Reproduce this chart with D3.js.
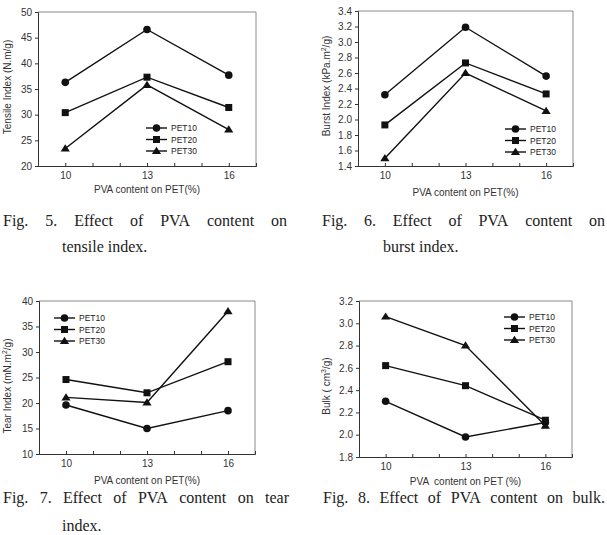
<!DOCTYPE html>
<html>
<head>
<meta charset="utf-8">
<script src="https://cdn.jsdelivr.net/npm/d3@7"></script>
<style>
  body { margin: 0; background: #fff; }
  svg { display: block; }
  .tick text { font-family: Arial, "Liberation Sans", sans-serif; }
</style>
</head>
<body>
<svg id="fig" width="607" height="535"></svg>
<script>
// data
const pvaContent = [10, 13, 16];
const seriesNames = ["PET10", "PET20", "PET30"];

const tensilePET10 = [36.3, 46.6, 37.7];
const tensilePET20 = [30.4, 37.3, 31.4];
const tensilePET30 = [23.4, 35.8, 27.1];

const burstPET10 = [2.32, 3.19, 2.56];
const burstPET20 = [1.93, 2.73, 2.33];
const burstPET30 = [1.50, 2.60, 2.11];

const tearPET10 = [19.6, 15.0, 18.5];
const tearPET20 = [24.6, 22.0, 28.1];
const tearPET30 = [21.1, 20.1, 38.0];

const bulkPET10 = [2.30, 1.98, 2.11];
const bulkPET20 = [2.62, 2.44, 2.13];
const bulkPET30 = [3.06, 2.80, 2.08];

const tensileTicks = [20, 25, 30, 35, 40, 45, 50];
const burstTicks = [1.4, 1.6, 1.8, 2.0, 2.2, 2.4, 2.6, 2.8, 3.0, 3.2, 3.4];
const tearTicks = [10, 15, 20, 25, 30, 35, 40];
const bulkTicks = [1.8, 2.0, 2.2, 2.4, 2.6, 2.8, 3.0, 3.2];

const svg = d3.select("#fig");
const font = "Arial, 'Liberation Sans', sans-serif";
const ink = "#111";

function marker(g, shape, x, y) {
  if (shape === 0) {
    g.append("circle").attr("cx", x).attr("cy", y).attr("r", 3.8).attr("fill", ink);
  } else if (shape === 1) {
    g.append("rect").attr("x", x - 3.5).attr("y", y - 3.5).attr("width", 7).attr("height", 7).attr("fill", ink);
  } else {
    g.append("path").attr("d", `M${x},${y - 4.2}L${x + 4.6},${y + 3}L${x - 4.6},${y + 3}Z`).attr("fill", ink);
  }
}

function drawChart(c) {
  const g = svg.append("g");
  const x = d3.scaleLinear().domain([9, 17]).range([c.left, c.right]);
  const y = d3.scaleLinear().domain(c.yDomain).range([c.bottom, c.top]);

  // gray frame top and right
  g.append("path")
    .attr("d", `M${c.left},${c.top}H${c.right}V${c.bottom}`)
    .attr("fill", "none").attr("stroke", "#8a8a8a").attr("stroke-width", 1);

  const yAxis = g.append("g")
    .attr("transform", `translate(${c.left},0)`)
    .call(d3.axisLeft(y).tickValues(c.yTicks).tickSize(3).tickPadding(3).tickFormat(c.fmt));
  yAxis.select(".domain").attr("stroke", "#333");
  yAxis.selectAll(".tick line").attr("stroke", "#333");
  yAxis.selectAll(".tick text").attr("font-size", 10).attr("fill", "#333");

  const xAxis = g.append("g")
    .attr("transform", `translate(0,${c.bottom})`)
    .call(d3.axisBottom(x).tickValues(d3.range(9, 18)).tickSize(-3).tickFormat(d => pvaContent.includes(d) ? d : ""));
  xAxis.select(".domain").attr("stroke", "#333");
  xAxis.selectAll(".tick line").attr("stroke", "#333");
  xAxis.selectAll(".tick text").attr("font-size", 10).attr("fill", "#333").attr("y", 6);

  g.append("text")
    .attr("x", (x(10) + x(16)) / 2).attr("y", c.bottom + c.titleDy)
    .attr("text-anchor", "middle").attr("font-family", font).attr("font-size", 10)
    .attr("fill", "#333").attr("xml:space", "preserve")
    .text(c.xTitle);

  const yt = g.append("text")
    .attr("transform", `translate(${c.yTitleX},${c.yTitleY}) rotate(-90)`)
    .attr("text-anchor", "middle").attr("font-family", font).attr("font-size", 10)
    .attr("fill", "#333");
  yt.append("tspan").text(c.yTitle[0]);
  if (c.yTitle.length > 1) {
    yt.append("tspan").attr("dy", -4).attr("font-size", 7).text(c.yTitle[1]);
    yt.append("tspan").attr("dy", 4).text(c.yTitle[2]);
  }

  const line = d3.line().x((d, i) => x(pvaContent[i])).y(d => y(d));
  c.series.forEach((s, k) => {
    g.append("path").datum(s).attr("d", line)
      .attr("fill", "none").attr("stroke", ink).attr("stroke-width", 1.4);
    s.forEach((v, i) => marker(g, k, x(pvaContent[i]), y(v)));
  });

  // legend
  seriesNames.forEach((name, k) => {
    const ly = c.legend.y + k * 11.5;
    g.append("line").attr("x1", c.legend.x).attr("x2", c.legend.x + 21)
      .attr("y1", ly).attr("y2", ly).attr("stroke", ink).attr("stroke-width", 1.4);
    marker(g, k, c.legend.x + 10.5, ly);
    g.append("text").attr("x", c.legend.x + 25).attr("y", ly + 3)
      .attr("font-family", font).attr("font-size", 8.5).attr("fill", "#222").text(name);
  });
}

drawChart({
  left: 38, right: 256, top: 12, bottom: 166,
  yDomain: [20, 50], yTicks: tensileTicks, fmt: d3.format("d"),
  series: [tensilePET10, tensilePET20, tensilePET30],
  xTitle: "PVA content on PET(%)", titleDy: 27,
  yTitle: ["Tensile Index (N.m/g)"], yTitleX: 11, yTitleY: 87,
  legend: { x: 146, y: 128 }
});

drawChart({
  left: 358, right: 573, top: 11, bottom: 166,
  yDomain: [1.4, 3.4], yTicks: burstTicks, fmt: d3.format(".1f"),
  series: [burstPET10, burstPET20, burstPET30],
  xTitle: "PVA content on PET(%)", titleDy: 30,
  yTitle: ["Burst Index (kPa.m", "2", "/g)"], yTitleX: 330, yTitleY: 86,
  legend: { x: 505, y: 129 }
});

drawChart({
  left: 39, right: 255, top: 301, bottom: 454,
  yDomain: [10, 40], yTicks: tearTicks, fmt: d3.format("d"),
  series: [tearPET10, tearPET20, tearPET30],
  xTitle: "PVA content on PET(%)", titleDy: 30,
  yTitle: ["Tear Index (mN.m", "2", "/g)"], yTitleX: 11, yTitleY: 386,
  legend: { x: 54, y: 318 }
});

drawChart({
  left: 359, right: 572, top: 301, bottom: 457,
  yDomain: [1.8, 3.2], yTicks: bulkTicks, fmt: d3.format(".1f"),
  series: [bulkPET10, bulkPET20, bulkPET30],
  xTitle: "PVA  content on PET (%)", titleDy: 28,
  yTitle: ["Bulk ( cm", "3", "/g)"], yTitleX: 330, yTitleY: 386,
  legend: { x: 504, y: 317 }
});

// captions, justified word by word
const serif = "'Liberation Serif', 'DejaVu Serif', serif";
function justify(text, x0, x1, yb) {
  const words = text.split(" ");
  const nodes = words.map(w => svg.append("text").attr("y", yb)
    .attr("font-family", serif).attr("font-size", 16).attr("fill", "#222").text(w));
  const widths = nodes.map(n => n.node().getComputedTextLength());
  const gap = (x1 - x0 - d3.sum(widths)) / (words.length - 1);
  let cx = x0;
  nodes.forEach((n, i) => { n.attr("x", cx); cx += widths[i] + gap; });
}
function plain(text, x0, yb) {
  svg.append("text").attr("x", x0).attr("y", yb).attr("xml:space", "preserve")
    .attr("font-family", serif).attr("font-size", 16).attr("fill", "#222").text(text);
}

justify("Fig. 5. Effect of PVA content on", 3, 287, 226);
plain("tensile index.", 62, 252);
justify("Fig. 6. Effect of PVA content on", 322, 605, 226);
plain("burst index.", 383, 252);
justify("Fig. 7. Effect of PVA content on tear", 3, 289, 503);
plain("index.", 62, 531);
justify("Fig. 8. Effect of PVA content on bulk.", 323, 605, 503);
</script>
</body>
</html>
